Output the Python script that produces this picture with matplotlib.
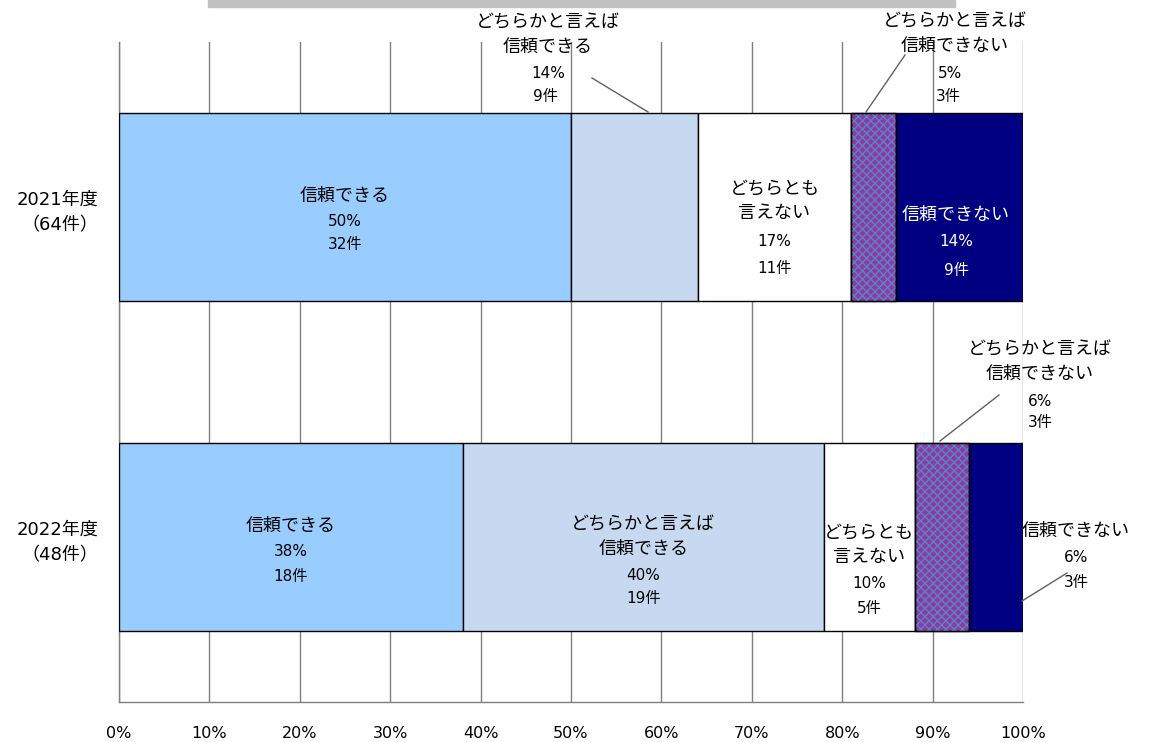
import matplotlib
matplotlib.use("Agg")
import matplotlib.pyplot as plt
from matplotlib.patches import Rectangle
import numpy as np

plt.rcParams['font.family'] = ['DejaVu Sans', 'Noto Sans CJK JP']
plt.rcParams['hatch.linewidth'] = 0.9

# data
years = ["2021年度\n（64件）", "2022年度\n（48件）"]
categories = ["信頼できる", "どちらかと言えば\n信頼できる", "どちらとも\n言えない",
              "どちらかと言えば\n信頼できない", "信頼できない"]
pct_2021 = [50, 14, 17, 5, 14]
pct_2022 = [38, 40, 10, 6, 6]
cnt_2021 = [32, 9, 11, 3, 9]
cnt_2022 = [18, 19, 5, 3, 3]
pct = [pct_2021, pct_2022]
cnt = [cnt_2021, cnt_2022]
colors = ["#99CCFF", "#C6D9F0", "#FFFFFF", "#93389F", "#000080"]
xticks = np.arange(0, 101, 10)

fig = plt.figure(figsize=(11.51, 7.42), dpi=100)
ax = fig.add_axes([119/1151, 1 - 702/742, 904/1151, 660/742])

# grey strip at the very top
fig.patches.append(Rectangle((208/1151, 1 - 7/742), 747/1151, 7/742,
                             transform=fig.transFigure, color="#C0C0C0", zorder=0))

bar_h = 0.57
for i in range(len(years)):
    left = 0
    for j, v in enumerate(pct[i]):
        ax.barh(i, v, left=left, height=bar_h, color=colors[j],
                edgecolor="black", linewidth=1.0, zorder=3)
        if j == 3:
            ax.barh(i, v, left=left, height=bar_h, color="none", hatch="xxxx",
                    edgecolor="#4C8CD0", linewidth=0, zorder=3)
            ax.barh(i, v, left=left, height=bar_h, color="none",
                    edgecolor="black", linewidth=1.0, zorder=4)
        left += v

ax.set_xlim(0, 100)
ax.set_ylim(1.5, -0.5)
ax.set_xticks(xticks)
ax.set_xticklabels([f"{t}%" for t in xticks], fontsize=11.5)
ax.set_yticks(range(len(years)))
ax.set_yticklabels(years, fontsize=13, linespacing=1.5)
ax.tick_params(axis='both', length=0)
ax.tick_params(axis='x', pad=17)
ax.tick_params(axis='y', pad=15)
ax.xaxis.grid(True, color="#808080", linewidth=1.0, zorder=0)
for s in ["top", "right"]:
    ax.spines[s].set_visible(False)
for s in ["left", "bottom"]:
    ax.spines[s].set_color("#808080")
    ax.spines[s].set_linewidth(1.0)

PX = 1 / 330.0
fs_name = 13
fs_num = 11


def px_to_data(x, y):
    return (x - 119) / 904 * 100, (y - 42) / 330 - 0.5


def inner(i, j, name_dy, pct_dy, cnt_dy, color="black", dx=0):
    left = sum(pct[i][:j])
    xc = left + pct[i][j] / 2 + dx
    ax.text(xc, i + name_dy * PX, categories[j], ha="center", va="center",
            fontsize=fs_name, color=color, linespacing=1.45, zorder=5)
    ax.text(xc, i + pct_dy * PX, f"{pct[i][j]}%", ha="center", va="center",
            fontsize=fs_num, color=color, zorder=5)
    ax.text(xc, i + cnt_dy * PX, f"{cnt[i][j]}件", ha="center", va="center",
            fontsize=fs_num, color=color, zorder=5)


def outer(i, j, name_xy, pct_xy, cnt_xy, line):
    x, y = px_to_data(*name_xy)
    ax.text(x, y, categories[j], ha="center", va="center", fontsize=fs_name,
            linespacing=1.45, clip_on=False, zorder=5)
    x, y = px_to_data(*pct_xy)
    ax.text(x, y, f"{pct[i][j]}%", ha="center", va="center", fontsize=fs_num,
            clip_on=False, zorder=5)
    x, y = px_to_data(*cnt_xy)
    ax.text(x, y, f"{cnt[i][j]}件", ha="center", va="center", fontsize=fs_num,
            clip_on=False, zorder=5)
    (x0, y0), (x1, y1) = px_to_data(*line[0]), px_to_data(*line[1])
    ax.plot([x0, x1], [y0, y1], color="#606060", linewidth=1.0,
            clip_on=False, zorder=5)


# 2021
inner(0, 0, -11, 14, 37)
inner(0, 2, -6, 34, 61)
inner(0, 4, 8, 34, 63, color="white", dx=-0.4)
outer(0, 1, (548, 35), (548, 73), (546, 97), ((592, 78), (648, 112)))
outer(0, 3, (955, 34), (950, 73), (948, 97), ((905, 55), (866, 112)))

# 2022
inner(1, 0, -11, 14, 39)
inner(1, 1, 0, 39, 62)
inner(1, 2, 8, 47, 71)
outer(1, 3, (1040, 362), (1040, 401), (1040, 423), ((999, 395), (940, 441)))
outer(1, 4, (1076, 531), (1076, 557), (1076, 583), ((1067, 573), (1022, 601)))

fig.savefig("out.png", dpi=100)
